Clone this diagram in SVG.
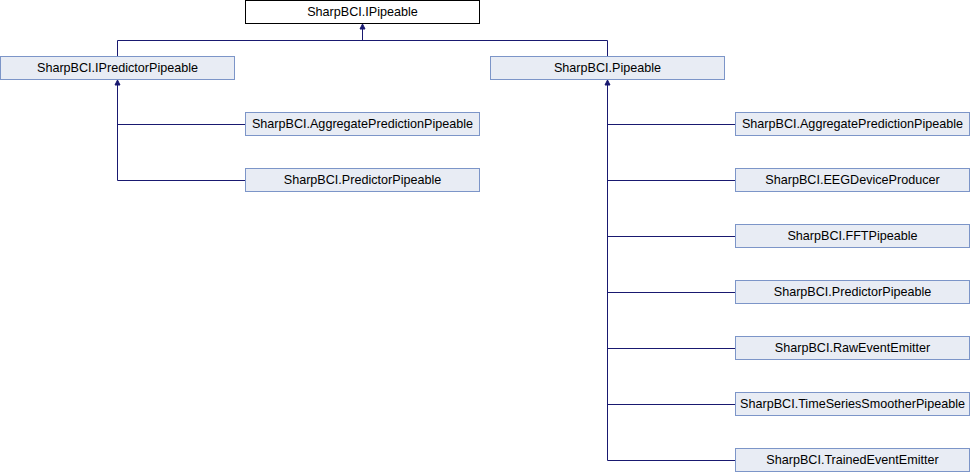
<svg xmlns="http://www.w3.org/2000/svg" width="970" height="472" viewBox="0 0 970 472">
<style>
.n rect{fill:#e8ecf4;stroke:#7c95c8;stroke-width:1}
.root rect{fill:#ffffff;stroke:#000000;stroke-width:1}
text{font-family:"Liberation Sans",Arial,sans-serif;font-size:12.6px;fill:#000;text-anchor:middle}
.e{fill:none;stroke:#191970;stroke-width:1}
.ah{fill:#191970;stroke:#191970;stroke-width:1}
</style>
<rect x="0" y="0" width="970" height="472" fill="#ffffff"/>
<g id="connectors">
<path class="e" d="M117.5,56.5V40.5H607.5V56.5"/>
<path class="e" d="M362.5,40.5V28"/>
<polygon class="ah" points="360,29 362.5,24 365,29"/>
<path class="e" d="M117.5,85V180.5H245.5M117.5,124.5H245.5"/>
<polygon class="ah" points="115,85 117.5,80 120,85"/>
<path class="e" d="M607.5,85V460.5H735.5M607.5,124.5H735.5M607.5,180.5H735.5M607.5,236.5H735.5M607.5,292.5H735.5M607.5,348.5H735.5M607.5,404.5H735.5"/>
<polygon class="ah" points="605,85 607.5,80 610,85"/>
</g>
<g id="IPipeable" class="root"><rect x="245.5" y="0.5" width="234" height="23"/><text x="362.5" y="16">SharpBCI.IPipeable</text></g>
<g id="IPredictorPipeable" class="n"><rect x="0.5" y="56.5" width="234" height="23"/><text x="117.5" y="72">SharpBCI.IPredictorPipeable</text></g>
<g id="Pipeable" class="n"><rect x="490.5" y="56.5" width="234" height="23"/><text x="607.5" y="72">SharpBCI.Pipeable</text></g>
<g id="L_AggregatePredictionPipeable" class="n"><rect x="245.5" y="112.5" width="234" height="23"/><text x="362.5" y="128">SharpBCI.AggregatePredictionPipeable</text></g>
<g id="L_PredictorPipeable" class="n"><rect x="245.5" y="168.5" width="234" height="23"/><text x="362.5" y="184">SharpBCI.PredictorPipeable</text></g>
<g id="R_AggregatePredictionPipeable" class="n"><rect x="735.5" y="112.5" width="234" height="23"/><text x="852.5" y="128">SharpBCI.AggregatePredictionPipeable</text></g>
<g id="EEGDeviceProducer" class="n"><rect x="735.5" y="168.5" width="234" height="23"/><text x="852.5" y="184">SharpBCI.EEGDeviceProducer</text></g>
<g id="FFTPipeable" class="n"><rect x="735.5" y="224.5" width="234" height="23"/><text x="852.5" y="240">SharpBCI.FFTPipeable</text></g>
<g id="R_PredictorPipeable" class="n"><rect x="735.5" y="280.5" width="234" height="23"/><text x="852.5" y="296">SharpBCI.PredictorPipeable</text></g>
<g id="RawEventEmitter" class="n"><rect x="735.5" y="336.5" width="234" height="23"/><text x="852.5" y="352">SharpBCI.RawEventEmitter</text></g>
<g id="TimeSeriesSmootherPipeable" class="n"><rect x="735.5" y="392.5" width="234" height="23"/><text x="852.5" y="408">SharpBCI.TimeSeriesSmootherPipeable</text></g>
<g id="TrainedEventEmitter" class="n"><rect x="735.5" y="448.5" width="234" height="23"/><text x="852.5" y="464">SharpBCI.TrainedEventEmitter</text></g>
</svg>
